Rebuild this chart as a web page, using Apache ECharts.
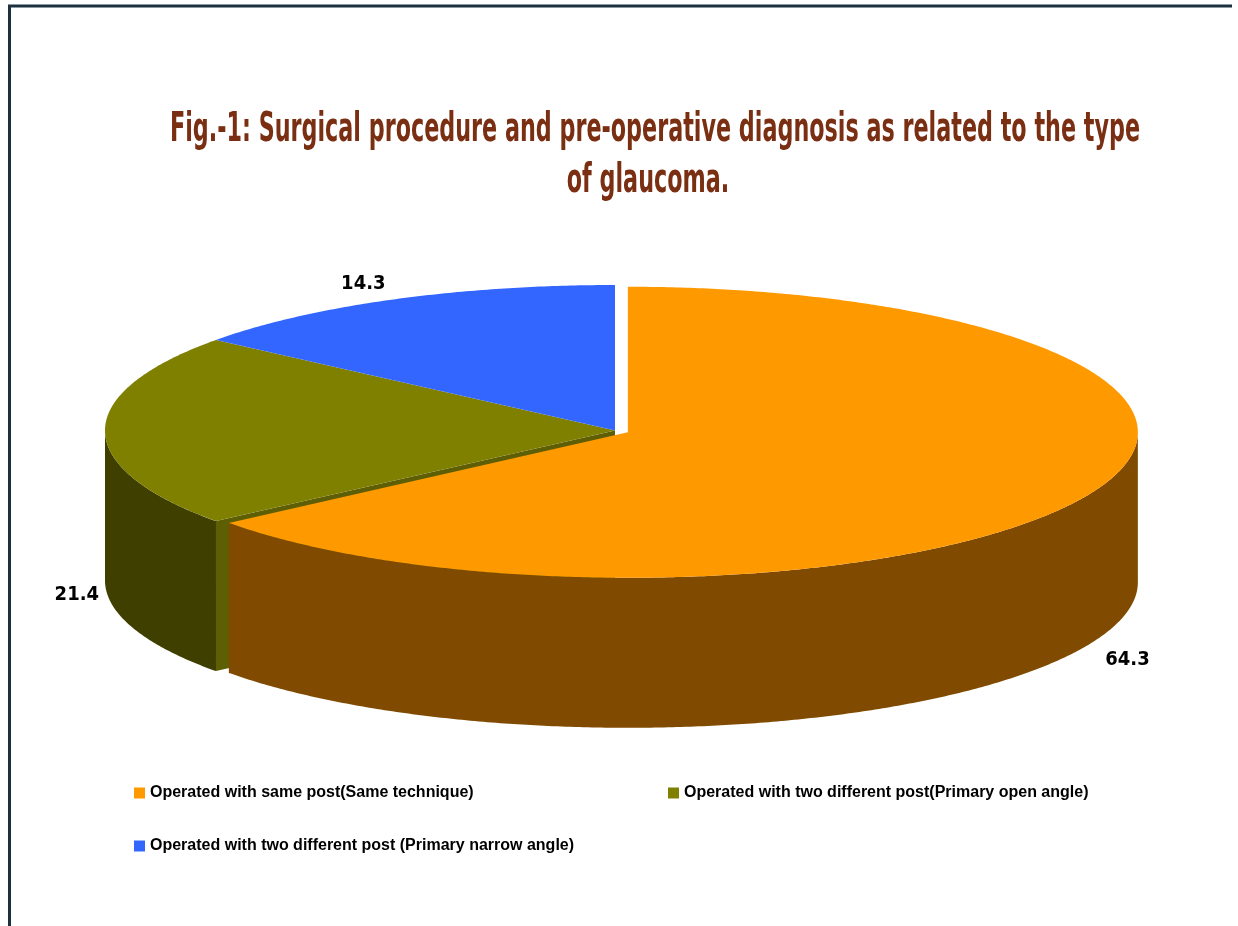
<!DOCTYPE html>
<html><head><meta charset="utf-8">
<script src="https://cdn.jsdelivr.net/npm/echarts@6/dist/echarts.min.js"></script>
<style>html,body{margin:0;padding:0;background:#fff}#c{width:1238px;height:926px}</style>
</head><body><div id="c"></div>
<script>
// ---- data ----
const categories = [
  'Operated with same post(Same technique)',
  'Operated with two different post(Primary open angle)',
  'Operated with two different post (Primary narrow angle)'
];
const values = [64.3, 21.4, 14.3];
const valueLabels = ['64.3', '21.4', '14.3'];
const exploded = [true, false, false];
const titleLines = ['Fig.-1: Surgical procedure and pre-operative diagnosis as related to the type', 'of glaucoma.'];

// ---- styles ----
const topColors = ['#FF9900', '#808000', '#3366FF'];
const sideColors = ['#804A00', '#3F3F00', '#1F3A99'];
const faceColors = ['#9A5A00', '#5E5E04', '#2A4FBF'];

const CX = 615, CY = 430.5, A = 510, B = 145.5, D = 150, EXPLODE = 0.028;

const total = values.reduce((s, v) => s + v, 0);
const cum = []; let acc = 0; values.forEach(v => { cum.push(acc); acc += v; });
const n = values.length;

function renderItem(params, api) {
  const i = params.dataIndex;
  const v = api.value(0);
  const t1 = cum[i] / total * 2 * Math.PI, t2 = (cum[i] + v) / total * 2 * Math.PI;
  const mid = (t1 + t2) / 2;
  const ex = exploded[i] ? EXPLODE : 0;
  const ox = A * ex * Math.sin(mid), oy = -B * ex * Math.cos(mid);
  const P = (t, r, dy) => [CX + A * r * Math.sin(t) + ox, CY - B * r * Math.cos(t) + oy + dy];
  const arc = (s, e, dy) => {
    const k2 = Math.max(2, Math.ceil((e - s) / (Math.PI / 360)));
    const pts = [];
    for (let k = 0; k <= k2; k++) pts.push(P(s + (e - s) * k / k2, 1, dy));
    return pts;
  };
  const children = [];
  const c0 = P(0, 0, 0), c1 = P(0, 0, D);
  // radial faces: only those facing the viewer and exposed by an exploded slice
  const prev = (i - 1 + n) % n, next = (i + 1) % n;
  if (-Math.sin(t1) > 1e-6 && (exploded[i] || exploded[prev])) {
    children.push({ type: 'polygon', z2: 1, shape: { points: [c0, P(t1, 1, 0), P(t1, 1, D), c1] }, style: { fill: faceColors[i] } });
  }
  if (Math.sin(t2) > 1e-6 && (exploded[i] || exploded[next])) {
    children.push({ type: 'polygon', z2: 1, shape: { points: [c0, P(t2, 1, 0), P(t2, 1, D), c1] }, style: { fill: faceColors[i] } });
  }
  const s = Math.max(t1, Math.PI / 2), e = Math.min(t2, 1.5 * Math.PI);
  if (e > s) {
    const pts = arc(s, e, 0).concat(arc(s, e, D).reverse());
    children.push({ type: 'polygon', z2: 2, shape: { points: pts }, style: { fill: sideColors[i] } });
  }
  children.push({ type: 'polygon', z2: 3, shape: { points: [c0].concat(arc(t1, t2, 0)) }, style: { fill: topColors[i] } });
  // label
  const sx = Math.sin(mid), front = -Math.cos(mid) >= -1e-6;
  const anchor = P(mid, 1, front ? D + 14 : -6);
  anchor[0] += sx >= 0 ? 18 : (front ? -6 : -8);
  children.push({
    type: 'text', z2: 5, x: anchor[0], y: anchor[1],
    style: {
      text: valueLabels[i], fill: '#000', fontSize: 20, fontWeight: 'bold',
      fontFamily: '"Liberation Sans Narrow", "DejaVu Sans Condensed", sans-serif',
      align: sx >= 0 ? 'left' : 'right', verticalAlign: front ? 'middle' : 'bottom'
    }
  });
  return { type: 'group', children };
}

function measure(text, font) {
  const ctx = document.createElement('canvas').getContext('2d');
  ctx.font = font; return ctx.measureText(text).width;
}
const TITLE_FAMILY = '"Liberation Sans Narrow", "DejaVu Sans Condensed", sans-serif';
const titleFont = 'bold 40px ' + TITLE_FAMILY;
const titleScale = 970 / measure(titleLines[0], titleFont);

const legendText = { color: '#000', fontSize: 16, fontWeight: 'bold', fontFamily: 'Liberation Sans, Arial, sans-serif' };

const chart = echarts.init(document.getElementById('c'), null, { renderer: 'canvas' });
chart.setOption({
  backgroundColor: '#ffffff',
  animation: false,
  legend: [
    {
      data: [categories[0], categories[2]],
      left: 129, top: 780, orient: 'vertical',
      itemWidth: 11, itemHeight: 11, itemGap: 37,
      icon: 'rect', selectedMode: false, textStyle: legendText
    },
    {
      data: [categories[1]],
      left: 663, top: 780, orient: 'vertical',
      itemWidth: 11, itemHeight: 11,
      icon: 'rect', selectedMode: false, textStyle: legendText
    }
  ],
  graphic: [
    { type: 'line', shape: { x1: 8, y1: 6, x2: 1232, y2: 6 }, style: { stroke: '#1C3140', lineWidth: 3 } },
    { type: 'line', shape: { x1: 9.5, y1: 5, x2: 9.5, y2: 926 }, style: { stroke: '#1C3140', lineWidth: 3 } },
    { type: 'text', x: 655, y: 131, scaleX: titleScale,
      style: { text: titleLines[0], fontSize: 40, fontWeight: 'bold', fontFamily: TITLE_FAMILY, fill: '#7A2E12', align: 'center', verticalAlign: 'middle' } },
    { type: 'text', x: 648, y: 182, scaleX: titleScale,
      style: { text: titleLines[1], fontSize: 40, fontWeight: 'bold', fontFamily: TITLE_FAMILY, fill: '#7A2E12', align: 'center', verticalAlign: 'middle' } }
  ],
  series: [
    {
      type: 'custom', name: 'pie3d', coordinateSystem: 'none',
      renderItem: renderItem, silent: true,
      data: values.map((v, i) => ({ name: categories[i], value: v }))
    },
    {
      type: 'pie', name: 'legendFeed', radius: 0, center: [-100, -100], silent: true,
      label: { show: false }, labelLine: { show: false },
      data: values.map((v, i) => ({ name: categories[i], value: v, itemStyle: { color: topColors[i] } }))
    }
  ]
});
</script></body></html>
